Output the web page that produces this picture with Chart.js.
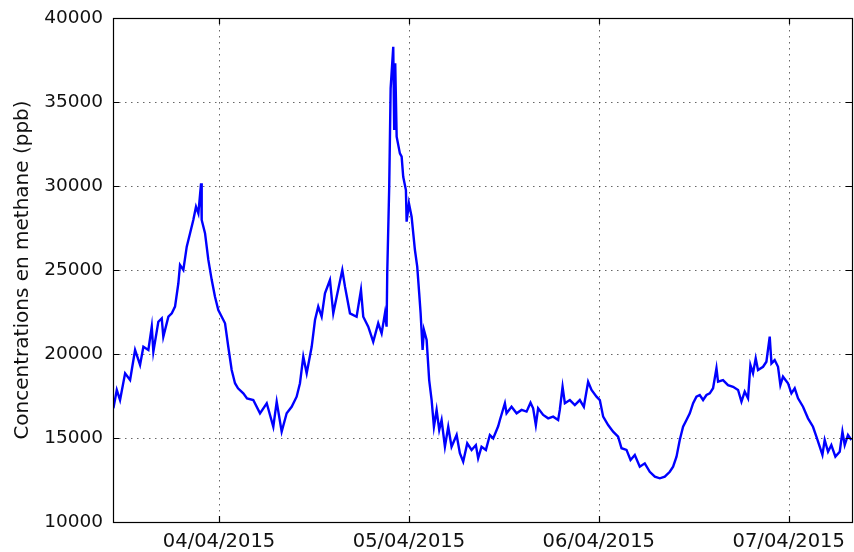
<!DOCTYPE html>
<html>
<head>
<meta charset="utf-8">
<script src="https://cdn.jsdelivr.net/npm/chart.js@4.4.1/dist/chart.umd.min.js"></script>
<style>
  html, body { margin: 0; padding: 0; background: #fff; }
  #wrap { width: 854px; height: 552px; position: relative; }
</style>
</head>
<body>
<div id="wrap"><canvas id="methaneChart"></canvas></div>
<script>
// heures depuis le 04/04/2015 00:00
const hours = [
  -13.35, -12.92, -12.51, -11.87, -11.24, -10.61, -9.98, -9.56, -8.93, -8.50,
  -8.30, -7.67, -7.24, -7.04, -6.40, -5.97, -5.56, -5.14, -4.93, -4.51,
  -4.08, -3.66, -3.25, -2.91, -2.61, -2.27, -2.19, -1.77, -1.35, -0.92,
  -0.51, -0.09, 0.34, 0.76, 1.17, 1.60, 2.02, 2.40, 3.07, 3.54,
  4.33, 5.18, 6.03, 6.86, 7.29, 7.92, 8.55, 9.18, 9.81, 10.23,
  10.65, 11.08, 11.71, 12.13, 12.54, 12.97, 13.39, 14.02, 14.44, 14.87,
  15.58, 15.92, 16.55, 17.39, 17.94, 18.23, 18.86, 19.49, 20.12, 20.55,
  20.97, 21.18, 21.26, 21.51, 21.69, 22.02, 22.14, 22.27, 22.45, 22.86,
  23.08, 23.28, 23.62, 23.71, 24.00, 24.34, 24.76, 25.05, 25.30, 25.48,
  25.73, 25.90, 26.24, 26.56, 26.87, 27.16, 27.50, 27.83, 28.13, 28.55,
  28.97, 29.39, 30.03, 30.44, 30.86, 31.37, 31.92, 32.46, 32.75, 33.18,
  33.73, 34.23, 34.65, 35.28, 35.50, 36.13, 36.34, 36.97, 37.61, 38.24,
  38.87, 39.37, 39.70, 40.04, 40.33, 40.97, 41.60, 42.23, 42.86, 43.07,
  43.42, 43.71, 44.34, 44.97, 45.60, 46.11, 46.65, 47.08, 47.71, 48.13,
  48.55, 49.18, 49.81, 50.44, 50.87, 51.50, 52.01, 52.55, 53.18, 53.81,
  54.44, 55.08, 55.71, 56.34, 56.97, 57.39, 57.82, 58.23, 58.65, 59.08,
  59.50, 59.92, 60.34, 60.76, 61.18, 61.61, 62.02, 62.44, 62.87, 63.07,
  63.70, 64.33, 64.97, 65.60, 66.03, 66.44, 66.86, 67.16, 67.49, 67.83,
  68.12, 68.76, 69.18, 69.60, 69.82, 70.23, 70.65, 70.95, 71.28, 71.91,
  72.34, 72.76, 73.18, 73.81, 74.44, 75.07, 75.50, 75.92, 76.26, 76.55,
  76.97, 77.39, 77.90, 78.45, 78.79, 79.08, 79.49, 79.92
];

// concentrations en methane (ppb)
const methane = [
  16770, 17860, 17260, 18850, 18450, 20240, 19350, 20430, 20240, 21630,
  20140, 21920, 22120, 21030, 22220, 22420, 22820, 24210, 25300, 25000,
  26390, 27190, 27980, 28770, 28370, 30160, 27980, 27190, 25600, 24400,
  23410, 22620, 22220, 21830, 20430, 19050, 18260, 17960, 17660, 17360,
  17260, 16470, 17070, 15670, 17160, 15380, 16470, 16860, 17460, 18260,
  19840, 18850, 20430, 22020, 22820, 22220, 23610, 24400, 22420, 23410,
  25000, 24010, 22420, 22220, 23810, 22220, 21630, 20730, 21830, 21230,
  22420, 21630, 24800, 29960, 35810, 38290, 33330, 37300, 32940, 31940,
  31750, 30550, 29760, 27880, 28970, 28170, 26190, 25200, 23610, 22420,
  20240, 21430, 20830, 18450, 17260, 15670, 16670, 15480, 16070, 14480,
  15670, 14480, 15180, 14090, 13590, 14680, 14290, 14580, 13790, 14480,
  14290, 15180, 14980, 15700, 16070, 17070, 16470, 16860, 16470, 16670,
  16570, 17100, 16770, 15770, 16770, 16370, 16170, 16270, 16070, 16670,
  18050, 17070, 17260, 16960, 17260, 16860, 18350, 17860, 17460, 17260,
  16270, 15770, 15380, 15080, 14390, 14290, 13690, 13990, 13290, 13490,
  12990, 12700, 12600, 12700, 12990, 13290, 13890, 14880, 15670, 16070,
  16470, 17070, 17460, 17560, 17260, 17560, 17660, 17960, 19150, 18350,
  18450, 18150, 18050, 17860, 17160, 17760, 17360, 19350, 18850, 19740,
  19050, 19240, 19540, 21030, 19440, 19640, 19240, 18150, 18650, 18260,
  17660, 17960, 17360, 16860, 16170, 15670, 15080, 14480, 13990, 14880,
  14180, 14580, 13890, 14180, 15380, 14580, 15180, 14880
];

const dayHours = [0, 24, 48, 72];
const dayLabels = ['04/04/2015', '05/04/2015', '06/04/2015', '07/04/2015'];
const yTicks = [10000, 15000, 20000, 25000, 30000, 35000, 40000];

const points = hours.map((h, i) => ({ x: h, y: methane[i] }));

// cadre, grille pointillee et graduations vers l'interieur
const axesFrame = {
  id: 'axesFrame',
  beforeDatasetsDraw(chart) {
    const { ctx, chartArea: a, scales: { x, y } } = chart;
    ctx.save();
    ctx.strokeStyle = 'rgba(0,0,0,0.6)';
    ctx.lineWidth = 1;
    ctx.setLineDash([1.5, 4.5]);
    dayHours.forEach(h => {
      const px = Math.round(x.getPixelForValue(h)) + 0.5;
      ctx.beginPath();
      ctx.moveTo(px, a.top);
      ctx.lineTo(px, a.bottom);
      ctx.stroke();
    });
    yTicks.slice(1, -1).forEach(v => {
      const py = Math.round(y.getPixelForValue(v)) + 0.5;
      ctx.beginPath();
      ctx.moveTo(a.left, py);
      ctx.lineTo(a.right, py);
      ctx.stroke();
    });
    ctx.restore();
  },
  afterDatasetsDraw(chart) {
    const { ctx, chartArea: a, scales: { x, y } } = chart;
    const len = 6;
    ctx.save();
    ctx.strokeStyle = '#000';
    ctx.lineWidth = 1.2;
    ctx.beginPath();
    dayHours.forEach(h => {
      const px = Math.round(x.getPixelForValue(h)) + 0.5;
      ctx.moveTo(px, a.bottom);
      ctx.lineTo(px, a.bottom - len);
      ctx.moveTo(px, a.top);
      ctx.lineTo(px, a.top + len);
    });
    yTicks.forEach(v => {
      const py = Math.round(y.getPixelForValue(v)) + 0.5;
      ctx.moveTo(a.left, py);
      ctx.lineTo(a.left + len, py);
      ctx.moveTo(a.right, py);
      ctx.lineTo(a.right - len, py);
    });
    ctx.stroke();
    ctx.strokeRect(Math.round(a.left) + 0.5, Math.round(a.top) + 0.5,
      Math.round(a.right - a.left), Math.round(a.bottom - a.top));
    ctx.restore();
  }
};

const family = '"DejaVu Sans", sans-serif';

new Chart(document.getElementById('methaneChart'), {
  type: 'line',
  data: {
    datasets: [{
      data: points,
      borderColor: '#0000ff',
      borderWidth: 2.4,
      pointRadius: 0,
      tension: 0,
      fill: false
    }]
  },
  options: {
    responsive: true,
    maintainAspectRatio: false,
    animation: false,
    events: [],
    layout: { padding: { top: 18, right: 2, left: 0, bottom: 0 } },
    plugins: { legend: { display: false }, tooltip: { enabled: false } },
    scales: {
      x: {
        type: 'linear',
        min: -13.4,
        max: 80,
        grid: { display: false },
        border: { display: false },
        afterBuildTicks: scale => { scale.ticks = dayHours.map(v => ({ value: v })); },
        afterFit: scale => {
          scale.height = 30;
          scale.paddingLeft = 0;
          scale.paddingRight = 0;
        },
        ticks: {
          color: '#111',
          font: { family: family, size: 19.5 },
          padding: 0,
          maxRotation: 0,
          autoSkip: false,
          callback: v => dayLabels[dayHours.indexOf(v)]
        }
      },
      y: {
        min: 10000,
        max: 40000,
        grid: { display: false, drawTicks: false },
        border: { display: false },
        afterBuildTicks: scale => { scale.ticks = yTicks.map(v => ({ value: v })); },
        afterFit: scale => {
          scale.width = 113;
          scale.paddingTop = 0;
          scale.paddingBottom = 0;
        },
        ticks: { color: '#111', font: { family: family, size: 18.5 }, padding: 10, callback: v => String(v) },
        title: {
          display: true,
          text: 'Concentrations en methane (ppb)',
          color: '#111',
          font: { family: family, size: 20 },
          padding: { top: 11, bottom: 0 }
        }
      }
    }
  },
  plugins: [axesFrame]
});
</script>
</body>
</html>
